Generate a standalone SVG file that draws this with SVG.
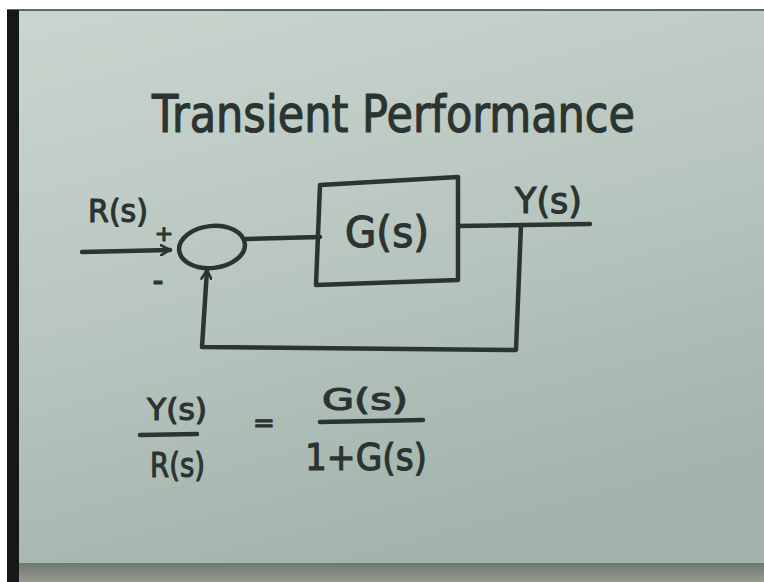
<svg xmlns="http://www.w3.org/2000/svg" width="764" height="582" viewBox="0 0 764 582">
<defs>
<linearGradient id="paper" x1="0" y1="0" x2="0.35" y2="1">
<stop offset="0" stop-color="#cbd5cf"/>
<stop offset="0.5" stop-color="#b9c7c0"/>
<stop offset="1" stop-color="#a2b4ac"/>
</linearGradient>
<linearGradient id="floor" x1="0" y1="0" x2="0" y2="1">
<stop offset="0" stop-color="#6f7870"/>
<stop offset="1" stop-color="#979b90"/>
</linearGradient>
<marker id="arrow" viewBox="0 0 12 12" refX="10" refY="6" markerWidth="12" markerHeight="12" markerUnits="userSpaceOnUse" orient="auto">
<path d="M1,1 L10,6 L1,11" fill="none" stroke="#2b3430" stroke-width="2.6" stroke-linecap="round" stroke-linejoin="round"/>
</marker>
<style>
.ink{fill:none;stroke:#2b3430;stroke-width:4.5;stroke-linecap:round;stroke-linejoin:round}
.txt{fill:#2b3430;stroke:#2b3430;stroke-width:1.2;stroke-linejoin:round;font-family:"DejaVu Sans","Liberation Sans",sans-serif}
</style>
</defs>
<rect width="764" height="582" fill="#ffffff"/>
<rect x="7" y="10" width="757" height="572" fill="url(#paper)"/>
<rect x="7" y="9" width="757" height="2" fill="#5f6862"/>
<rect x="7" y="10" width="12" height="572" fill="#151816"/>
<rect x="19" y="563" width="745" height="19" fill="url(#floor)"/>

<g id="title">
<text class="txt" x="152" y="132" font-size="52" textLength="483" lengthAdjust="spacingAndGlyphs">Transient Performance</text>
</g>

<g id="input-label">
<text class="txt" x="88" y="222" font-size="32" textLength="60" lengthAdjust="spacingAndGlyphs">R(s)</text>
<text class="txt" x="164" y="241" font-size="22" text-anchor="middle">+</text>
<text class="txt" x="158" y="292" font-size="36" text-anchor="middle" textLength="11" lengthAdjust="spacingAndGlyphs">-</text>
</g>

<g id="sum-junction">
<ellipse class="ink" cx="212" cy="247" rx="33" ry="21" transform="rotate(-6 212 247)"/>
</g>

<g id="plant-G">
<path class="ink" d="M320,185 L458,177 L458,280 L316,285 Z"/>
<text class="txt" x="387" y="247" font-size="42" text-anchor="middle" textLength="84" lengthAdjust="spacingAndGlyphs">G(s)</text>
</g>

<g id="output-label">
<text class="txt" x="515" y="213" font-size="36" textLength="67" lengthAdjust="spacingAndGlyphs">Y(s)</text>
</g>

<g id="connectors">
<path class="ink" d="M82,252 L170,250" marker-end="url(#arrow)"/>
<path class="ink" d="M246,239 L320,237"/>
<path class="ink" d="M458,226 L590,224"/>
<path class="ink" d="M521,225 L516,350 L202,347 L207,270" marker-end="url(#arrow)"/>
</g>

<g id="equation">
<text class="txt" x="147" y="420" font-size="30" textLength="60" lengthAdjust="spacingAndGlyphs">Y(s)</text>
<path class="ink" d="M140,435 L197,434"/>
<text class="txt" x="150" y="477" font-size="34" textLength="55" lengthAdjust="spacingAndGlyphs">R(s)</text>
<text class="txt" x="264" y="432" font-size="26" text-anchor="middle">=</text>
<text class="txt" x="322" y="410" font-size="31" textLength="86" lengthAdjust="spacingAndGlyphs">G(s)</text>
<path class="ink" d="M320,422 L423,420"/>
<text class="txt" x="305" y="470" font-size="38" textLength="122" lengthAdjust="spacingAndGlyphs">1+G(s)</text>
</g>
</svg>
